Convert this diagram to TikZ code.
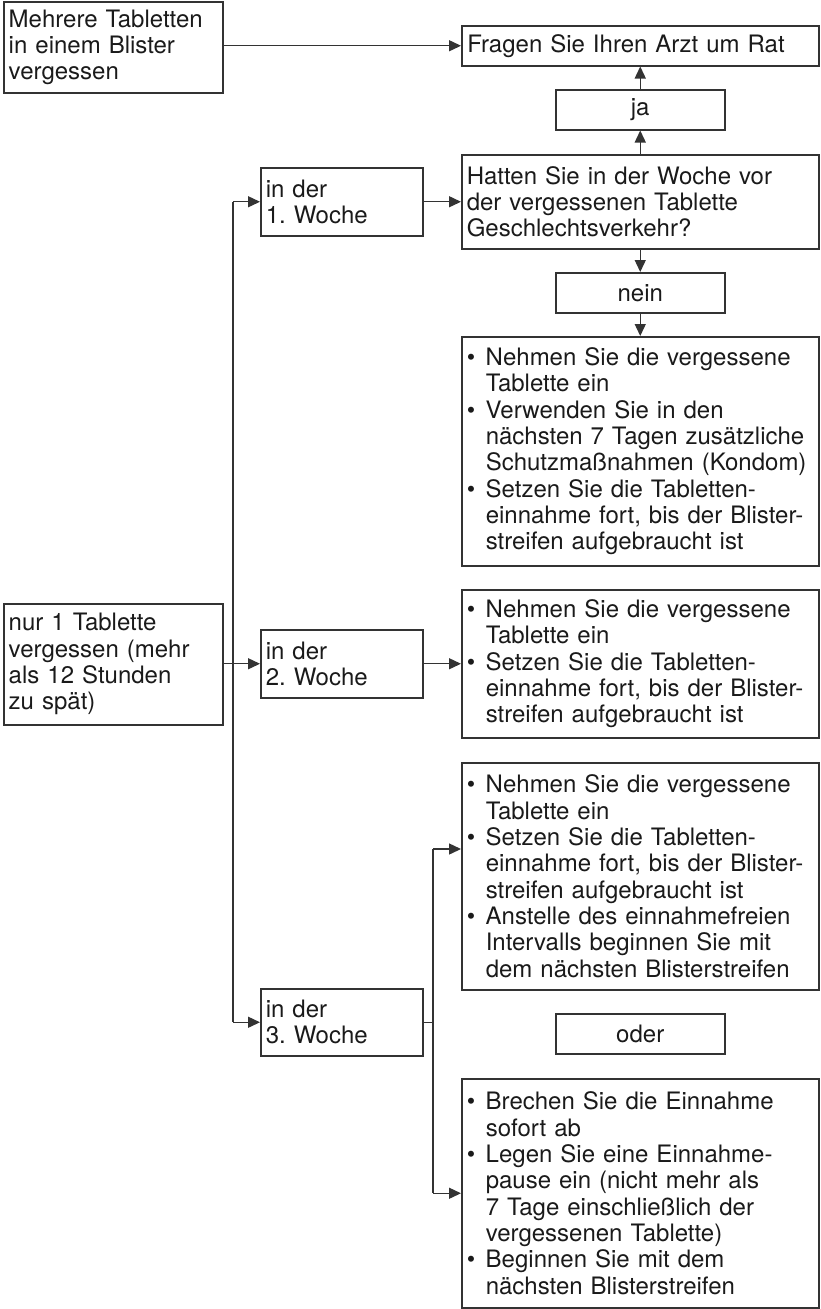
\documentclass[tikz,border=0pt]{standalone}
\usepackage{fontspec}
\setmainfont{TeX Gyre Heros}
\usetikzlibrary{arrows.meta}
\definecolor{ink}{HTML}{1A1A1A}
\definecolor{frame}{HTML}{333333}
\newcommand{\bit}{\makebox[19pt][l]{\textbullet}}
\newcommand{\ind}{\hspace*{19pt}}
\frenchspacing
\begin{document}
\begin{tikzpicture}[x=1pt,y=-1pt,
  box/.style={draw=frame, line width=1.5pt, anchor=north west, inner xsep=5pt, inner ysep=0pt,
    align=left, text=ink, font=\fontsize{24}{26.3}\selectfont},
  cbox/.style={box, align=center},
  arr/.style={draw=frame, line width=1.4pt, -{Triangle[length=12pt,width=11pt]}},
  ln/.style={draw=frame, line width=1.4pt}]
\useasboundingbox (0,0) rectangle (821,1309);
% boxes
\node[box, text width=209pt, minimum height=91pt] (A) at (3,1)
  {Mehrere Tabletten\\in einem Blister\\vergessen};
\node[box, text width=346pt, minimum height=40pt, inner xsep=5.5pt] (F) at (461,25)
  {Fragen Sie Ihren Arzt um Rat};
\node[cbox, text width=159pt, minimum height=40pt] (ja) at (555,89) {ja};
\node[box, text width=347pt, minimum height=94pt] (H) at (461,154)
  {Hatten Sie in der Woche vor\\der vergessenen Tablette\\Geschlechtsverkehr?};
\node[box, text width=152pt, minimum height=68pt] (w1) at (260,167) {in der\\1. Woche};
\node[cbox, text width=159pt, minimum height=40pt] (nein) at (555,272) {nein};
\node[box, text width=347pt, minimum height=229pt] (b1) at (461,336)
  {\bit Nehmen Sie die vergessene\\\ind Tablette ein\\
   \bit Verwenden Sie in den\\\ind nächsten 7 Tagen zusätzliche\\\ind Schutzmaßnahmen (Kondom)\\
   \bit Setzen Sie die Tabletten-\\\ind einnahme fort, bis der Blister-\\\ind streifen aufgebraucht ist};
\node[box, text width=209pt, minimum height=121pt] (nur) at (3,603)
  {nur 1 Tablette\\vergessen (mehr\\als 12 Stunden\\zu spät)};
\node[box, text width=152pt, minimum height=68pt] (w2) at (260,629) {in der\\2. Woche};
\node[box, text width=347pt, minimum height=148pt] (b2) at (461,589)
  {\bit Nehmen Sie die vergessene\\\ind Tablette ein\\
   \bit Setzen Sie die Tabletten-\\\ind einnahme fort, bis der Blister-\\\ind streifen aufgebraucht ist};
\node[box, text width=347pt, minimum height=227pt] (b3) at (461,762)
  {\bit Nehmen Sie die vergessene\\\ind Tablette ein\\
   \bit Setzen Sie die Tabletten-\\\ind einnahme fort, bis der Blister-\\\ind streifen aufgebraucht ist\\
   \bit Anstelle des einnahmefreien\\\ind Intervalls beginnen Sie mit\\\ind dem nächsten Blisterstreifen};
\node[box, text width=152pt, minimum height=67pt] (w3) at (260,988) {in der\\3. Woche};
\node[cbox, text width=159pt, minimum height=40pt] (oder) at (555,1013) {oder};
\node[box, text width=347pt, minimum height=229pt] (b4) at (461,1078)
  {\bit Brechen Sie die Einnahme\\\ind sofort ab\\
   \bit Legen Sie eine Einnahme-\\\ind pause ein (nicht mehr als\\\ind 7 Tage einschließlich der\\\ind vergessenen Tablette)\\
   \bit Beginnen Sie mit dem\\\ind nächsten Blisterstreifen};
% helper coordinates
\coordinate (tx) at (233,0);
\coordinate (bx) at (433,0);
\coordinate (b3in) at (461,849);
% connectors
\draw[arr] (A.east |- F.west) -- (F.west);
\draw[arr] (ja.north) -- (F.south);
\draw[arr] (H.north) -- (ja.south);
\draw[arr] (w1.east) -- (w1.east -| H.west);
\draw[arr] (H.south) -- (nein.north);
\draw[arr] (nein.south) -- (b1.north);
\draw[ln] (tx |- w1.west) -- (tx |- w3.west);
\draw[arr] (tx |- w1.west) -- (w1.west);
\draw[arr] (tx |- w3.west) -- (w3.west);
\draw[arr] (nur.east |- w2.west) -- (w2.west);
\draw[arr] (w2.east) -- (w2.east -| b2.west);
\draw[ln] (w3.east) -- (bx |- w3.east);
\draw[ln] (bx |- b3in) -- (bx |- b4.west);
\draw[arr] (bx |- b3in) -- (b3in);
\draw[arr] (bx |- b4.west) -- (b4.west);
\end{tikzpicture}
\end{document}
